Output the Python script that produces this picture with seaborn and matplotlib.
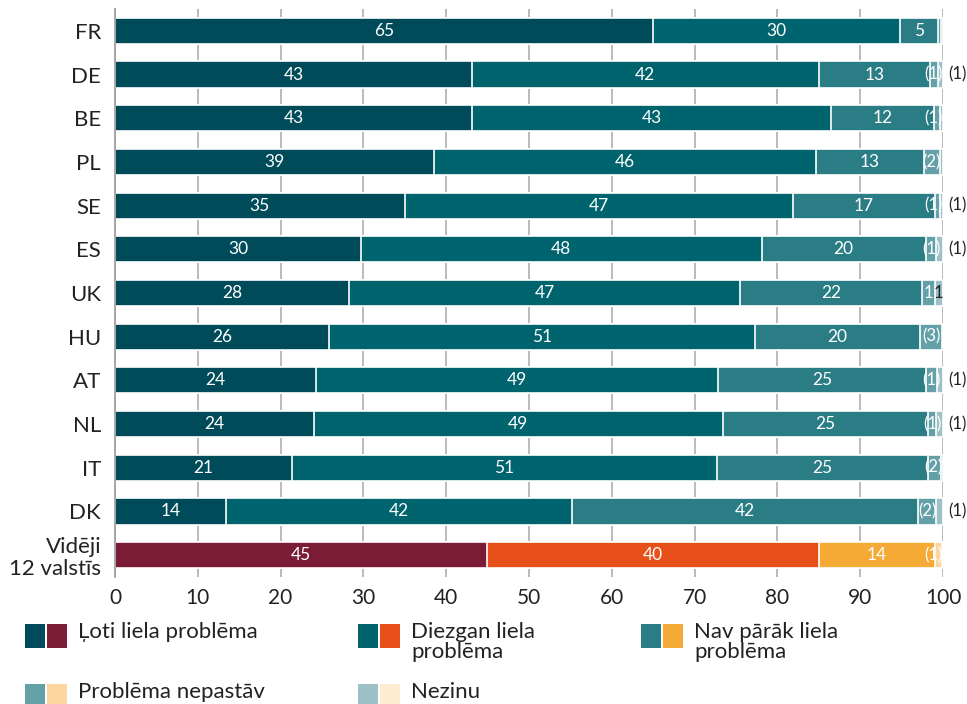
import numpy as np
import pandas as pd
import seaborn as sns
import matplotlib.pyplot as plt
from matplotlib.patches import Rectangle

countries = ["FR", "DE", "BE", "PL", "SE", "ES", "UK", "HU", "AT", "NL", "IT", "DK", "Vidēji\n12 valstīs"]

loti = [65.0, 43.1, 43.1, 38.5, 35.0, 29.7, 28.3, 25.8, 24.3, 24.0, 21.4, 13.4, 44.9]
diezgan = [29.8, 41.9, 43.4, 46.2, 46.9, 48.4, 47.2, 51.5, 48.5, 49.4, 51.3, 41.8, 40.1]
navparak = [4.6, 13.4, 12.4, 13.0, 17.1, 19.8, 22.0, 19.9, 25.2, 24.8, 25.5, 41.8, 14.0]
nepastav = [0.4, 1.0, 0.7, 1.9, 0.6, 1.3, 1.5, 2.7, 1.3, 1.0, 1.6, 2.2, 0.9]
nezinu = [0.2, 0.6, 0.4, 0.4, 0.4, 0.8, 1.0, 0.1, 0.7, 0.8, 0.2, 0.8, 0.1]

# labels as printed on the chart (parentheses = small / unreliable)
labels = [
    ["65", "30", "5", "", ""],
    ["43", "42", "13", "(1)", "(1)"],
    ["43", "43", "12", "(1)", ""],
    ["39", "46", "13", "(2)", ""],
    ["35", "47", "17", "(1)", "(1)"],
    ["30", "48", "20", "(1)", "(1)"],
    ["28", "47", "22", "1", "1"],
    ["26", "51", "20", "(3)", ""],
    ["24", "49", "25", "(1)", "(1)"],
    ["24", "49", "25", "(1)", "(1)"],
    ["21", "51", "25", "(2)", ""],
    ["14", "42", "42", "(2)", "(1)"],
    ["45", "40", "14", "(1)", ""],
]

legend_labels = ["Ļoti liela problēma", "Diezgan liela\nproblēma", "Nav pārāk liela\nproblēma",
                 "Problēma nepastāv", "Nezinu"]

colors = ["#004b59", "#00646f", "#2a7c85", "#64a0a8", "#9cc1c7"]
avg_colors = ["#7a1c36", "#e8501a", "#f6aa36", "#fdd59e", "#feebd2"]

df = pd.DataFrame({"country": countries, "loti": loti, "diezgan": diezgan,
                   "navparak": navparak, "nepastav": nepastav, "nezinu": nezinu})
cols = ["loti", "diezgan", "navparak", "nepastav", "nezinu"]
cum = df[cols].cumsum(axis=1)

sns.set_style("white")
plt.rcParams["font.family"] = ["Lato", "DejaVu Sans"]

fig = plt.figure(figsize=(9.67, 7.04), dpi=100)
ax = fig.add_axes([115 / 967, 1 - 577 / 704, 828 / 967, 568 / 704])

# stacked bars: draw cumulative totals from the longest to the shortest
for k in range(4, -1, -1):
    sns.barplot(x=cum[cols[k]], y=df["country"], orient="h", color=colors[k],
                width=0.6, edgecolor="white", linewidth=1.2, saturation=1, ax=ax)
    ax.patches[-1].set_facecolor(avg_colors[k])

ax.set_xlim(0, 100)
ax.set_xticks(range(0, 101, 10))
ax.set_xlabel("")
ax.set_ylabel("")
ax.xaxis.grid(True, color="#b5b5b5", lw=1.3)
ax.set_axisbelow(True)
for s in ["top", "right", "bottom"]:
    ax.spines[s].set_visible(False)
ax.spines["left"].set_color("#a0a0a0")
ax.spines["left"].set_linewidth(1.3)
ax.tick_params(axis="x", length=0, pad=8, labelsize=15, labelcolor="#222222")
ax.tick_params(axis="y", length=0, pad=10, labelsize=16, labelcolor="#222222")
for t in ax.get_yticklabels():
    t.set_linespacing(1.1)

# value labels
for i in range(len(countries)):
    left = 0.0
    for k in range(5):
        w = df.loc[i, cols[k]]
        txt = labels[i][k]
        if txt:
            if k == 4 and txt.startswith("("):
                ax.text(100.6, i, txt, ha="left", va="center", fontsize=12,
                        color="#222222", clip_on=False)
            elif k == 4:
                ax.text(left + w / 2, i, txt, ha="center", va="center", fontsize=12,
                        color="#222222")
            elif k == 3:
                ax.text(min(left + w / 2, 98.9), i, txt, ha="center", va="center",
                        fontsize=12, color="white")
            else:
                ax.text(left + w / 2, i, txt, ha="center", va="center", fontsize=12.5,
                        color="white")
        left += w

# legend with paired swatches (countries / average)
leg_pos = [(25, 624), (358, 624), (641, 624), (25, 684), (358, 684)]
for k, (px, py) in enumerate(leg_pos):
    for j, c in enumerate([colors[k], avg_colors[k]]):
        fig.patches.append(Rectangle(((px + j * 22) / 967, 1 - (py + 24) / 704), 20 / 967, 24 / 704,
                                     transform=fig.transFigure, facecolor=c, edgecolor="none"))
    fig.text((px + 53) / 967, 1 - (py - 2) / 704, legend_labels[k], ha="left", va="top",
             fontsize=16, color="#222222", linespacing=1.0)

fig.savefig("out.png", dpi=100)
